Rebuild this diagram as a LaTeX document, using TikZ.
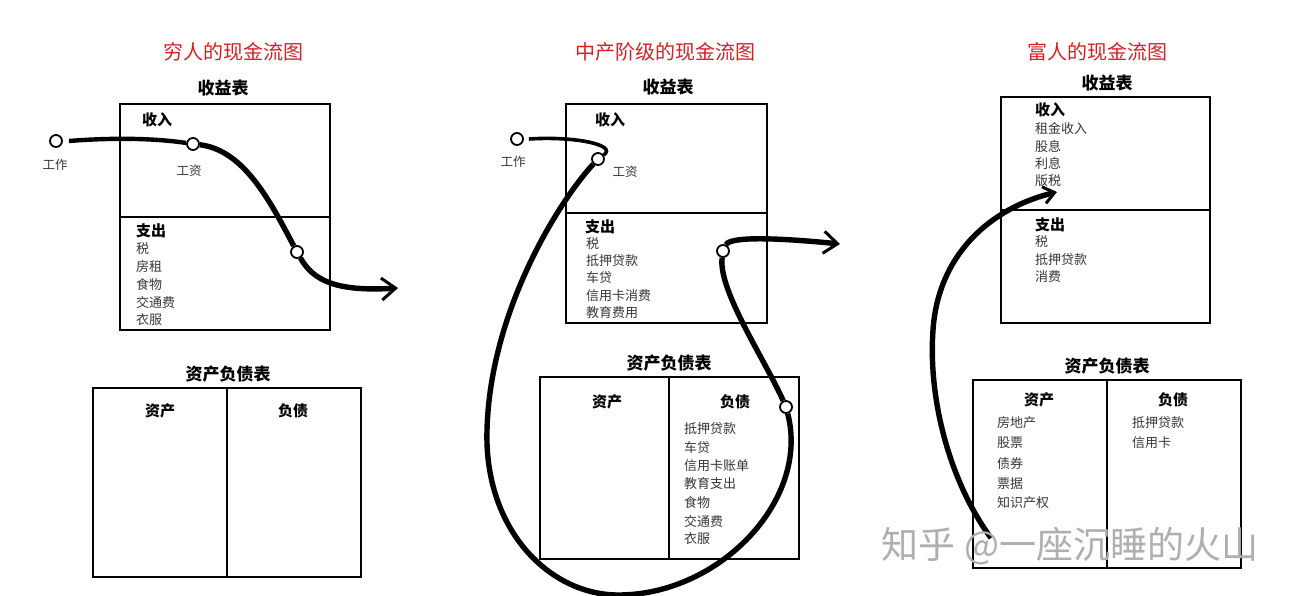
\documentclass[tikz,border=0pt]{standalone}
\usepackage{fontspec}
\newfontfamily\cjk{Noto Sans CJK SC}
\usetikzlibrary{arrows.meta}
\definecolor{titlered}{RGB}{214,32,38}
\definecolor{itemgray}{RGB}{55,55,55}
\definecolor{wmgray}{RGB}{175,175,175}
\begin{document}
\begin{tikzpicture}[x=1pt,y=-1pt,
  box/.style={draw,line width=2.6pt,inner sep=0,outer sep=0},
  boxline/.style={line width=2.6pt},
  dot/.style={circle,draw,fill=white,line width=1.8pt,inner sep=0,minimum size=12pt},
  flow/.style={line width=5.4pt,line cap=butt},
  flowarrow/.style={flow,-{Straight Barb[length=14pt,width=22pt,line width=3pt]}},
  smallarrow/.style={flow,-{Straight Barb[length=11pt,width=17pt,line width=3pt]}},
  ptitle/.style={font=\cjk\fontsize{20}{20}\selectfont,text=titlered,inner sep=0},
  stitle/.style={font=\cjk\bfseries\fontsize{17}{17}\selectfont,inner sep=0},
  head/.style={font=\cjk\bfseries\fontsize{15}{15}\selectfont,inner sep=0},
  item/.style={font=\cjk\fontsize{13}{13}\selectfont,text=itemgray,anchor=west,inner sep=0},
  lbl/.style={font=\cjk\fontsize{12.5}{12.5}\selectfont,text=itemgray,inner sep=0},
  wm/.style={font=\cjk\fontsize{37}{37}\selectfont,text=wmgray,inner sep=0},
]
\useasboundingbox[fill=white] (0,0) rectangle (1298,596);

% ---------------- Panel 1 ----------------
\node[ptitle] (t1) at (233,52) {穷人的现金流图};
\node[stitle] (is1t) at (223,88) {收益表};
\node[box,minimum width=210pt,minimum height=226pt] (ib1) at (225,217) {};
\draw[boxline] (ib1.west |- 0,217) -- (ib1.east |- 0,217);
\node[head] (in1) at (157,120) {收入};
\node[head] (ex1) at (151,231) {支出};
\node[item] (ex1a) at (136,249) {税};
\node[item] (ex1b) at (136,267) {房租};
\node[item] (ex1c) at (136,285) {食物};
\node[item] (ex1d) at (136,303) {交通费};
\node[item] (ex1e) at (136,320) {衣服};
\node[stitle] (bs1t) at (228,374) {资产负债表};
\node[box,minimum width=268pt,minimum height=189pt] (bs1) at (227,482.5) {};
\draw[boxline] (bs1.north -| 227,0) -- (bs1.south -| 227,0);
\node[head] (as1) at (160,411) {资产};
\node[head] (li1) at (293,411) {负债};

\node[dot] (w1) at (56,141) {};
\node[lbl] (w1l) at (55,165) {工作};
\node[dot] (s1) at (193,144) {};
\node[lbl] (s1l) at (189,171) {工资};
\node[dot] (e1) at (297,252) {};
\coordinate (a1) at (398,288);
\draw[flow,line width=4.4pt] ([xshift=6pt]w1.east) .. controls (120,137) and (160,139) .. (s1);
\draw[flow] (s1) .. controls (245,150) and (272,205) .. (e1);
\draw[flowarrow] (e1) .. controls (313,280) and (335,292) .. (a1);

% ---------------- Panel 2 ----------------
\node[ptitle] (t2) at (665,52) {中产阶级的现金流图};
\node[stitle] (is2t) at (668,87) {收益表};
\node[box,minimum width=201pt,minimum height=219pt] (ib2) at (666.5,213.5) {};
\draw[boxline] (ib2.west |- 0,213) -- (ib2.east |- 0,213);
\node[head] (in2) at (610,120) {收入};
\node[head] (ex2) at (600,227) {支出};
\node[item] (ex2a) at (586,244) {税};
\node[item] (ex2b) at (586,261) {抵押贷款};
\node[item] (ex2c) at (586,278) {车贷};
\node[item] (ex2d) at (586,296) {信用卡消费};
\node[item] (ex2e) at (586,313) {教育费用};
\node[stitle] (bs2t) at (669,363) {资产负债表};
\node[box,minimum width=259pt,minimum height=182pt] (bs2) at (669.5,468) {};
\draw[boxline] (bs2.north -| 669,0) -- (bs2.south -| 669,0);
\node[head] (as2) at (607,402) {资产};
\node[head] (li2) at (735,402) {负债};
\node[item] (li2a) at (684,429) {抵押贷款};
\node[item] (li2b) at (684,448) {车贷};
\node[item] (li2c) at (684,466) {信用卡账单};
\node[item] (li2d) at (684,484) {教育支出};
\node[item] (li2e) at (684,503) {食物};
\node[item] (li2f) at (684,522) {交通费};
\node[item] (li2g) at (684,539) {衣服};

\node[dot] (w2) at (517,139) {};
\node[lbl] (w2l) at (513,162) {工作};
\node[dot] (s2) at (598,159) {};
\node[lbl] (s2l) at (625,172) {工资};
\node[dot] (x2) at (723,251) {};
\node[dot] (c2) at (786,407) {};
\coordinate (a2) at (840,244);
\draw[flow,line width=3.6pt] ([xshift=5pt]w2.east) .. controls (575,136) and (618,145) .. (s2);
\draw[flow] (s2) .. controls (560,200) and (490,310) .. (487,430)
  .. controls (484,530) and (550,596) .. (620,595)
  .. controls (720,594) and (810,500) .. (c2);
\draw[flow] (c2) .. controls (765,360) and (718,290) .. (x2);
\draw[flowarrow] (x2) .. controls (730,236) and (780,238) .. (a2);

% ---------------- Panel 3 ----------------
\node[ptitle] (t3) at (1097,52) {富人的现金流图};
\node[stitle] (is3t) at (1107,83) {收益表};
\node[box,minimum width=209pt,minimum height=226pt] (ib3) at (1105.5,210) {};
\draw[boxline] (ib3.west |- 0,210) -- (ib3.east |- 0,210);
\node[head] (in3) at (1050,110) {收入};
\node[item] (in3a) at (1035,129) {租金收入};
\node[item] (in3b) at (1035,147) {股息};
\node[item] (in3c) at (1035,164) {利息};
\node[item] (in3d) at (1035,181) {版税};
\node[head] (ex3) at (1050,225) {支出};
\node[item] (ex3a) at (1035,242) {税};
\node[item] (ex3b) at (1035,260) {抵押贷款};
\node[item] (ex3c) at (1035,277) {消费};
\node[stitle] (bs3t) at (1107,366) {资产负债表};
\node[box,minimum width=268pt,minimum height=188pt] (bs3) at (1107,474) {};
\draw[boxline] (bs3.north -| 1107,0) -- (bs3.south -| 1107,0);
\node[head] (as3) at (1039,400) {资产};
\node[head] (li3) at (1173,400) {负债};
\node[item] (as3a) at (997,423) {房地产};
\node[item] (as3b) at (997,443) {股票};
\node[item] (as3c) at (997,464) {债券};
\node[item] (as3d) at (997,484) {票据};
\node[item] (as3e) at (997,503) {知识产权};
\node[item] (li3a) at (1132,423) {抵押贷款};
\node[item] (li3b) at (1132,443) {信用卡};

\coordinate (st3) at (991,538);
\coordinate (a3) at (1057,192);
\draw[smallarrow] (st3) .. controls (950,482) and (928,400) .. (933,330)
  .. controls (938,255) and (990,208) .. (a3);

% watermark
\node[wm] (wmk) at (1070,546) {知乎 @一座沉睡的火山};
\end{tikzpicture}
\end{document}
